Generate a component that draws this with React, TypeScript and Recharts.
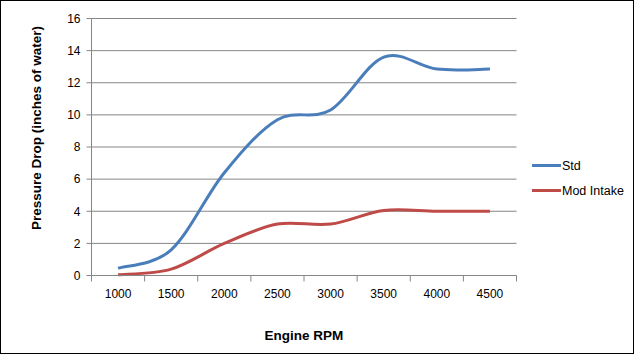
import { LineChart, Line, XAxis, YAxis, CartesianGrid, Legend, Label } from 'recharts';

// engine speed categories and measured pressure drop (inches of water)
const rpm = ['1000', '1500', '2000', '2500', '3000', '3500', '4000', '4500'];
const stdDrop = [0.45, 1.6, 6.4, 9.7, 10.3, 13.6, 12.85, 12.85];
const modDrop = [0.05, 0.4, 2.0, 3.2, 3.2, 4.05, 4.0, 4.0];
const yTicks = [0, 2, 4, 6, 8, 10, 12, 14, 16];
const seriesOrder = ['std', 'mod'];

const data = rpm.map((r, i) => ({ rpm: r, std: stdDrop[i], mod: modDrop[i] }));

const FONT = '"Liberation Sans", Arial, sans-serif';
const GRID = '#868686';
const W = 634;
const H = 354;
const M = { top: 18.5, right: 117.5, bottom: 48.5, left: 0 };
const Y_W = 91.5;
const X_H = 30;
const BAND = (W - M.left - M.right - Y_W) / rpm.length;

// Excel-like smoothing: catmull-rom style bezier through each point
function excelSmooth(context: any) {
    let pts: number[][] = [];
    return {
        areaStart() {},
        areaEnd() {},
        lineStart() { pts = []; },
        point(x: number, y: number) { pts.push([+x, +y]); },
        lineEnd() {
            if (!pts.length) return;
            context.moveTo(pts[0][0], pts[0][1]);
            for (let i = 0; i < pts.length - 1; i++) {
                const p0 = pts[i - 1] || pts[i];
                const p1 = pts[i];
                const p2 = pts[i + 1];
                const p3 = pts[i + 2] || p2;
                context.bezierCurveTo(
                    p1[0] + (p2[0] - p0[0]) / 6, p1[1] + (p2[1] - p0[1]) / 6,
                    p2[0] - (p3[0] - p1[0]) / 6, p2[1] - (p3[1] - p1[1]) / 6,
                    p2[0], p2[1]
                );
            }
        },
    };
}

const RpmTick = (props: any) => {
    const { x, y, payload, index } = props;
    const half = BAND / 2;
    return (
        <g>
            <line x1={x - half} x2={x - half} y1={y} y2={y + 6} stroke={GRID} />
            {index === rpm.length - 1 && (
                <line x1={x + half} x2={x + half} y1={y} y2={y + 6} stroke={GRID} />
            )}
            <text x={x} y={y + 22} textAnchor="middle" fontSize={12} fontFamily={FONT} fill="#000">
                {payload.value}
            </text>
        </g>
    );
};

const LegendBox = ({ payload }: any) => {
    const items = [...(payload || [])].sort(
        (a: any, b: any) => seriesOrder.indexOf(a.dataKey) - seriesOrder.indexOf(b.dataKey)
    );
    return (
        <div style={{ fontFamily: FONT, fontSize: 12.5, color: '#000' }}>
            {items.map((p: any) => (
                <div key={p.value} style={{ display: 'flex', alignItems: 'center', height: 25 }}>
                    <span style={{ display: 'inline-block', width: 29, height: 3, background: p.color, marginRight: 1 }} />
                    <span>{p.value}</span>
                </div>
            ))}
        </div>
    );
};

export default function App() {
    return (
        <div style={{ position: 'absolute', left: 0, top: 0, width: W, height: H, background: '#fff', outline: '1px solid #000', outlineOffset: -1 }}>
            <LineChart width={W} height={H} data={data} margin={M}>
                <CartesianGrid vertical={false} stroke={GRID} />
                <XAxis
                    dataKey="rpm"
                    scale="band"
                    height={X_H}
                    stroke={GRID}
                    tickLine={false}
                    tickSize={0}
                    tickMargin={0}
                    interval={0}
                    tick={<RpmTick />}
                >
                    <Label
                        content={({ viewBox }: any) => (
                            <text
                                x={viewBox.x + viewBox.width / 2}
                                y={340}
                                textAnchor="middle"
                                fontFamily={FONT}
                                fontWeight="bold"
                                fontSize={13.5}
                                fill="#000"
                            >
                                Engine RPM
                            </text>
                        )}
                    />
                </XAxis>
                <YAxis
                    width={Y_W}
                    domain={[0, 16]}
                    ticks={yTicks}
                    interval={0}
                    stroke={GRID}
                    tickSize={5}
                    tickMargin={6}
                    tick={{ fontSize: 12, fontFamily: FONT, fill: '#000' }}
                >
                    <Label
                        content={() => (
                            <text
                                x={41}
                                y={128}
                                transform="rotate(-90 41 128)"
                                textAnchor="middle"
                                fontFamily={FONT}
                                fontWeight="bold"
                                fontSize={13.5}
                                fill="#000"
                            >
                                Pressure Drop (inches of water)
                            </text>
                        )}
                    />
                </YAxis>
                <Legend
                    layout="vertical"
                    align="center"
                    verticalAlign="middle"
                    content={<LegendBox />}
                    wrapperStyle={{ left: 532, top: 153, width: 100 }}
                />
                <Line
                    name="Std"
                    dataKey="std"
                    type={excelSmooth as any}
                    stroke="#4A7EBB"
                    strokeWidth={3}
                    dot={false}
                    activeDot={false}
                    isAnimationActive={false}
                />
                <Line
                    name="Mod Intake"
                    dataKey="mod"
                    type={excelSmooth as any}
                    stroke="#BE4B48"
                    strokeWidth={3}
                    dot={false}
                    activeDot={false}
                    isAnimationActive={false}
                />
            </LineChart>
        </div>
    );
}
